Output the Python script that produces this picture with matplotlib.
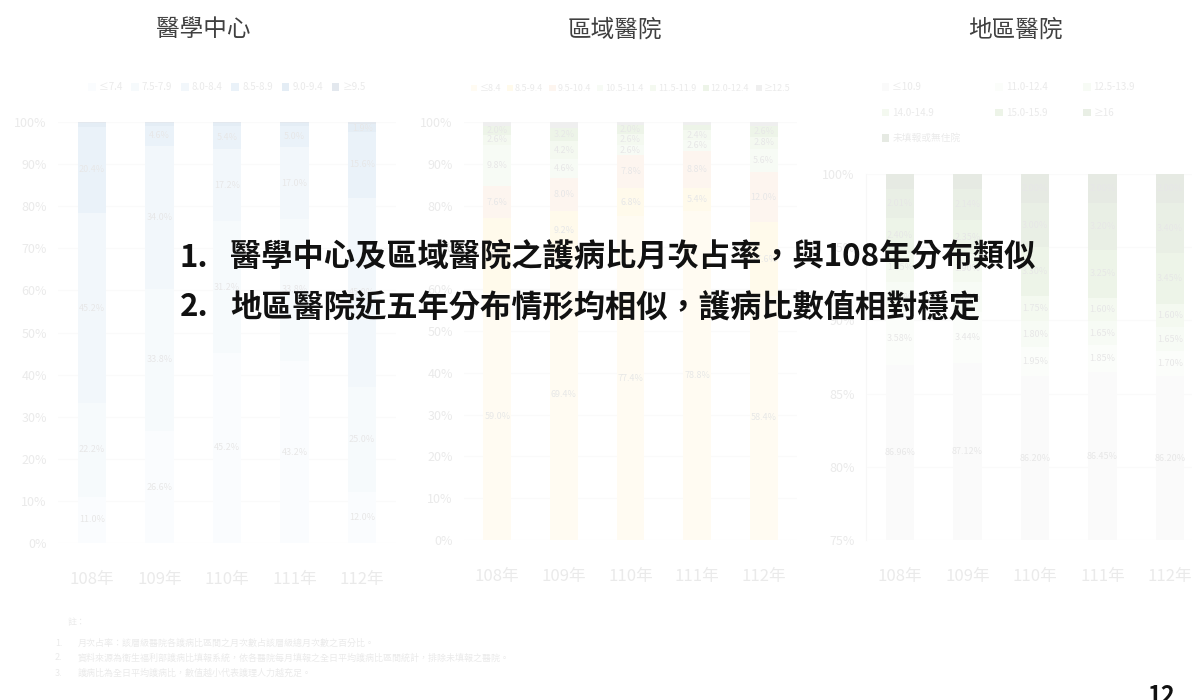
import matplotlib
matplotlib.use("Agg")
import matplotlib.pyplot as plt
from matplotlib.patches import Rectangle

plt.rcParams["font.family"] = ["Noto Sans CJK TC", "DejaVu Sans"]

years = ["108年", "109年", "110年", "111年", "112年"]

# 醫學中心：各護病比區間月次占率 (%)，由下而上
center_bins = ["≤7.4", "7.5-7.9", "8.0-8.4", "8.5-8.9", "9.0-9.4", "≥9.5"]
center_vals = [
    [11.0, 26.6, 45.2, 43.2, 12.0],
    [22.2, 33.8, 31.2, 33.8, 25.0],
    [45.2, 34.0, 17.2, 17.0, 45.0],
    [20.4, 4.6, 5.4, 5.0, 15.6],
    [1.0, 0.8, 0.8, 0.8, 1.9],
    [0.2, 0.2, 0.2, 0.2, 0.5],
]

# 區域醫院
region_bins = ["≤8.4", "8.5-9.4", "9.5-10.4", "10.5-11.4", "11.5-11.9", "12.0-12.4", "≥12.5"]
region_vals = [
    [59.0, 69.4, 77.4, 78.8, 58.4],
    [18.0, 9.2, 6.8, 5.4, 17.6],
    [7.6, 8.0, 7.8, 8.8, 12.0],
    [9.8, 4.6, 2.6, 2.6, 5.6],
    [2.6, 4.2, 2.6, 2.4, 2.8],
    [2.0, 3.2, 2.0, 1.4, 2.6],
    [1.0, 1.4, 0.8, 0.6, 1.0],
]

# 地區醫院
district_bins = ["≤10.9", "11.0-12.4", "12.5-13.9", "14.0-14.9", "15.0-15.9", "≥16", "未填報或無住院"]
district_vals = [
    [86.96, 87.12, 86.20, 86.45, 86.20],
    [3.58, 3.44, 1.95, 1.85, 1.70],
    [2.10, 2.05, 1.80, 1.65, 1.65],
    [1.95, 1.90, 1.75, 1.60, 1.60],
    [2.40, 2.35, 3.30, 3.25, 3.45],
    [2.01, 2.14, 3.00, 3.20, 3.40],
    [1.00, 1.00, 2.00, 2.00, 2.00],
]

center_colors = ["#deebf7", "#bdd7ee", "#9dc3e6", "#5b9bd5", "#2e75b6", "#1f4e79"]
region_colors = ["#ffe699", "#ffd966", "#f4b183", "#c5e0b4", "#a9d18e", "#70ad47", "#7f7f7f"]
district_colors = ["#d9d9d9", "#e2f0d9", "#c5e0b4", "#a9d18e", "#70ad47", "#548235", "#385723"]

titles = ["醫學中心", "區域醫院", "地區醫院"]
points = ["1.", "2."]
sentences = [
    "醫學中心及區域醫院之護病比月次占率，與108年分布類似",
    "地區醫院近五年分布情形均相似，護病比數值相對穩定",
]
notes = [
    "月次占率：該層級醫院各護病比區間之月次數占該層級總月次數之百分比。",
    "資料來源為衛生福利部護病比填報系統，依各醫院每月填報之全日平均護病比區間統計，排除未填報之醫院。",
    "護病比為全日平均護病比，數值越小代表護理人力越充足。",
]

W, H = 1192, 700
fig = plt.figure(figsize=(W / 100, H / 100), dpi=100)


def px_axes(left, top, right, bottom):
    return fig.add_axes([left / W, 1 - bottom / H, (right - left) / W, (bottom - top) / H])


def stacked(ax, vals, labels, colors, ymin, yticks, min_label):
    x = list(range(len(years)))
    base = [0.0] * len(years)
    handles = []
    for row, lab, col in zip(vals, labels, colors):
        bars = ax.bar(x, row, 0.42, bottom=base, color=col, label=lab, zorder=2)
        handles.append(bars)
        for b, v, b0 in zip(bars, row, base):
            if v >= min_label and b0 + v > ymin:
                mid = (max(b0, ymin) + b0 + v) / 2
                ax.text(b.get_x() + b.get_width() / 2, mid,
                        f"{v:.1f}%" if ymin == 0 else f"{v:.2f}%",
                        ha="center", va="center", fontsize=6.5, color="#404040", zorder=3)
        base = [a + b for a, b in zip(base, row)]
    ax.set_xlim(-0.5, len(years) - 0.5)
    ax.set_ylim(ymin, 100)
    ax.set_yticks(yticks)
    ax.set_yticklabels([f"{t}%" for t in yticks], fontsize=9, color="#595959")
    ax.set_xticks(x)
    ax.set_xticklabels(years, fontsize=12, color="#595959")
    ax.tick_params(axis="x", length=0, pad=20)
    ax.tick_params(axis="y", length=0, pad=8)
    ax.grid(axis="y", color="#d9d9d9", lw=0.8, zorder=0)
    for s in ax.spines.values():
        s.set_visible(False)
    return handles


ax1 = px_axes(58, 122, 396, 543)
stacked(ax1, center_vals, center_bins, center_colors, 0, list(range(0, 101, 10)), 1.5)
ax1.legend(loc="lower center", bbox_to_anchor=(0.5, 1.05), ncol=6, frameon=False,
           fontsize=7, handlelength=0.8, handleheight=0.8, columnspacing=0.9,
           handletextpad=0.3, labelcolor="#595959")

ax2 = px_axes(464, 122, 797, 540)
stacked(ax2, region_vals, region_bins, region_colors, 0, list(range(0, 101, 10)), 1.5)
ax2.legend(loc="lower center", bbox_to_anchor=(0.5, 1.05), ncol=7, frameon=False,
           fontsize=6.5, handlelength=0.7, handleheight=0.7, columnspacing=0.7,
           handletextpad=0.2, labelcolor="#595959")

ax3 = px_axes(866, 174, 1204, 540)
h3 = stacked(ax3, district_vals, district_bins, district_colors, 75, list(range(75, 101, 5)), 1.5)
ax3.spines["left"].set_visible(True)
ax3.spines["left"].set_color("#bfbfbf")
# legend filled row by row, three per row
order = [0, 3, 6, 1, 4, 2, 5]
ax3.legend([h3[i] for i in order], [district_bins[i] for i in order],
           loc="lower left", bbox_to_anchor=(0.02, 1.06), ncol=3, frameon=False,
           fontsize=7, handlelength=0.8, handleheight=0.8, columnspacing=3.6,
           handletextpad=0.3, labelspacing=1.6, labelcolor="#595959")

# footnotes sit under the wash like the charts
fig.text(68 / W, 1 - 622 / H, "註：", fontsize=6.5, color="#595959", va="center")
for i, line in enumerate(notes):
    y = 1 - (643 + 15 * i) / H
    fig.text(55 / W, y, f"{i + 1}.", fontsize=6.5, color="#595959", va="center")
    fig.text(78 / W, y, line, fontsize=6.5, color="#595959", va="center")

# white wash over the charts
fig.add_artist(Rectangle((0, 0), 1, 1, transform=fig.transFigure,
                         facecolor="white", alpha=0.88, zorder=5, lw=0))

for t, cx in zip(titles, [203, 615, 1015]):
    fig.text(cx / W, 1 - 30 / H, t, fontsize=17, color="#404040",
             ha="center", va="center", zorder=10)

for i, (p, s) in enumerate(zip(points, sentences)):
    y = 1 - (258 + 49 * i) / H
    fig.text(180 / W, y, p, fontsize=22.5, color="#111111", va="center",
             fontweight="bold", zorder=10)
    fig.text(230 / W, y, s, fontsize=22.5, color="#111111", va="center",
             fontweight="bold", zorder=10)

fig.text(1147 / W, 1 - 684 / H, "12", fontsize=17, fontweight="bold",
         color="#111111", va="top", zorder=10)

fig.savefig("out.png", dpi=100)
